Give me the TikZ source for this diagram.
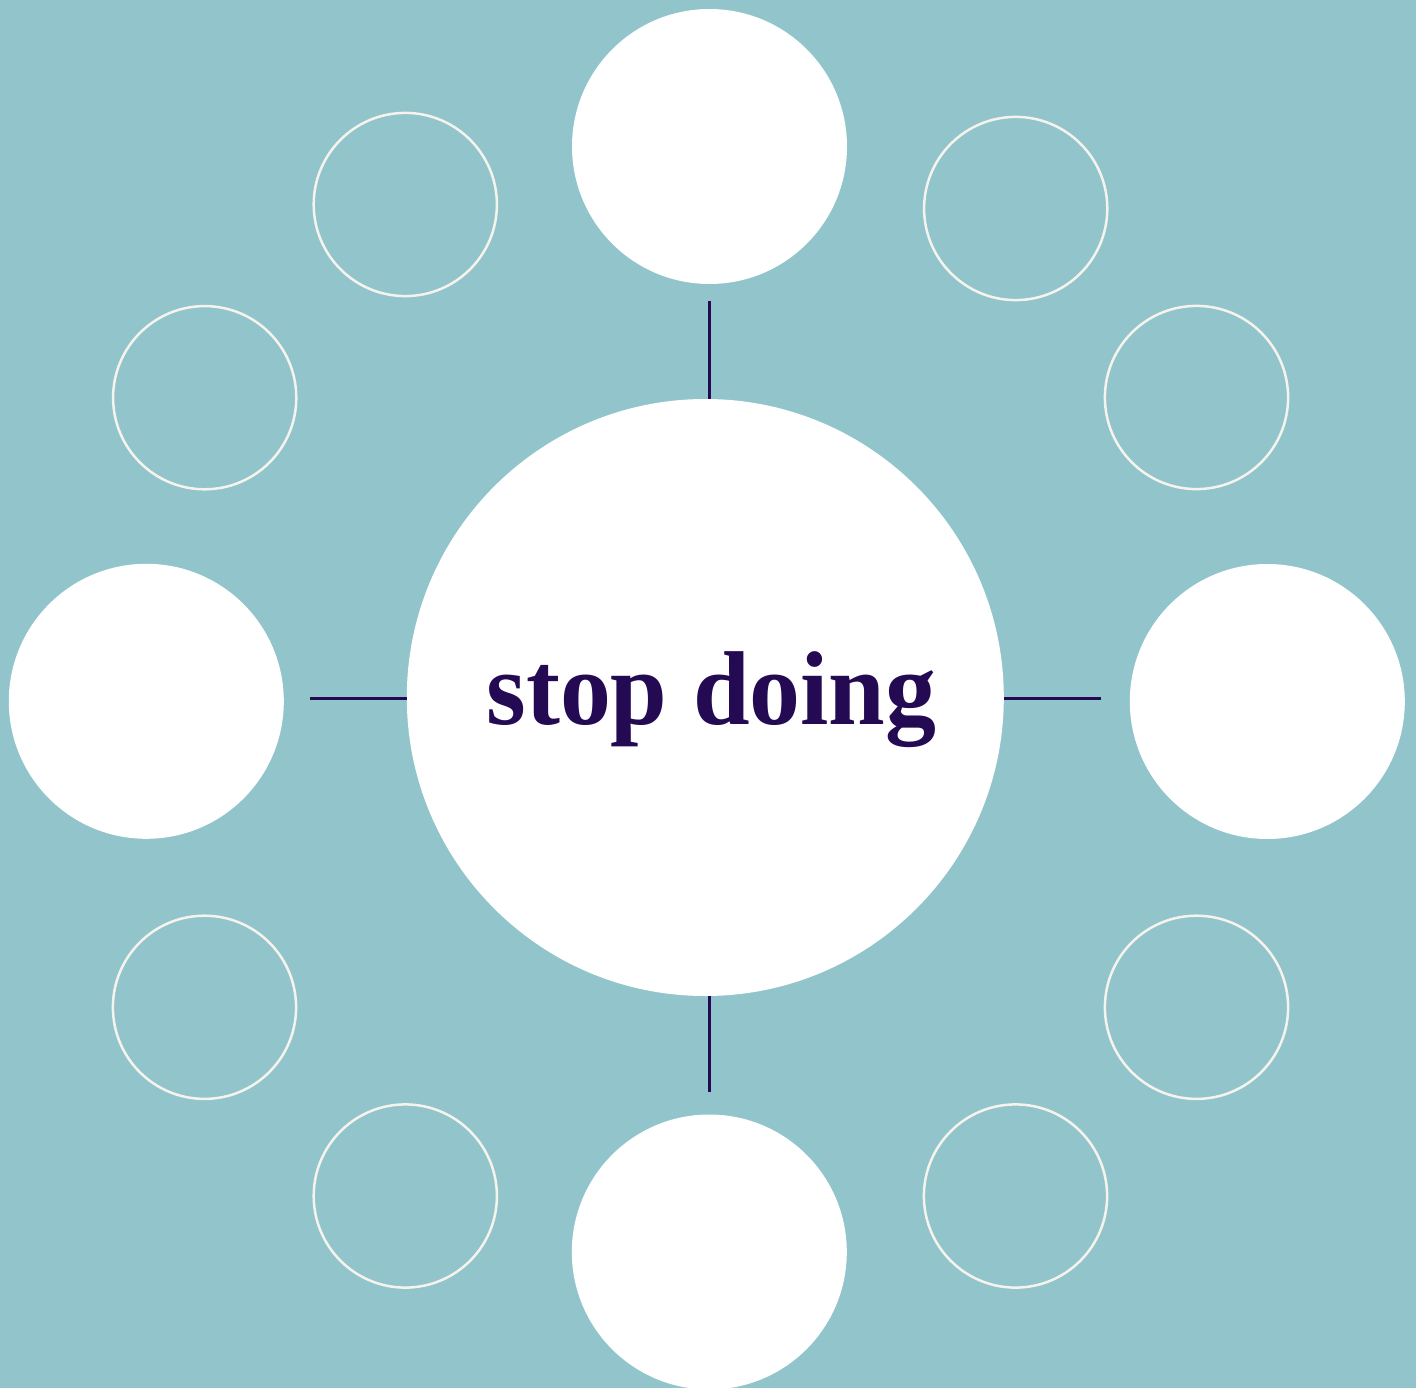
\documentclass[tikz,border=0pt]{standalone}
\usepackage{fontspec}
\newfontfamily\labelfont{Liberation Serif}
\definecolor{bgteal}{HTML}{92C5CB}
\definecolor{ink}{HTML}{230A52}
\definecolor{ring}{HTML}{F5F3EC}
\begin{document}
\begin{tikzpicture}[x=1pt,y=-1pt,
  bigdisc/.style={circle,fill=white,draw=none,inner sep=0pt,minimum size=275pt},
  hubdisc/.style={circle,fill=white,draw=none,inner sep=0pt,minimum size=597pt},
  ringc/.style={circle,draw=ring,line width=2.5pt,fill=none,inner sep=0pt,minimum size=183.2pt},
  spoke/.style={draw=ink,line width=2.7pt}]
\fill[bgteal] (0,0) rectangle (1416,1388);
\useasboundingbox (0,0) rectangle (1416,1388);
% hub
\node[hubdisc] (c) at (705.3,697.5) {};
\node[anchor=base,text=ink,font={\labelfont\bfseries\fontsize{105}{115}\selectfont},xscale=0.97,transform shape] (lbl) at (711.5,724) {stop doing};
% outer filled circles
\node[bigdisc] (top) at (709.5,146.5) {};
\node[bigdisc] (bot) at (709.3,1252) {};
\node[bigdisc] (lft) at (146.3,701.3) {};
\node[bigdisc] (rgt) at (1267.3,701.5) {};
% outlined rings
\node[ringc] (r1) at (405.3,204.5) {};
\node[ringc] (r2) at (1015.7,208.5) {};
\node[ringc] (r3) at (204.7,397.7) {};
\node[ringc] (r4) at (1196.5,397.5) {};
\node[ringc] (r5) at (204.5,1007.3) {};
\node[ringc] (r6) at (1196.5,1007.3) {};
\node[ringc] (r7) at (405.3,1196) {};
\node[ringc] (r8) at (1015.5,1196) {};
% spokes
\coordinate (st) at (709.3,301);
\coordinate (sb) at (709.3,1091.7);
\coordinate (sl) at (310,698.3);
\coordinate (sr) at (1101,698.3);
\draw[spoke] (st) -- (st |- c.north);
\draw[spoke] (sb |- c.south) -- (sb);
\draw[spoke] (sl) -- (sl -| c.west);
\draw[spoke] (sr -| c.east) -- (sr);
\end{tikzpicture}
\end{document}
